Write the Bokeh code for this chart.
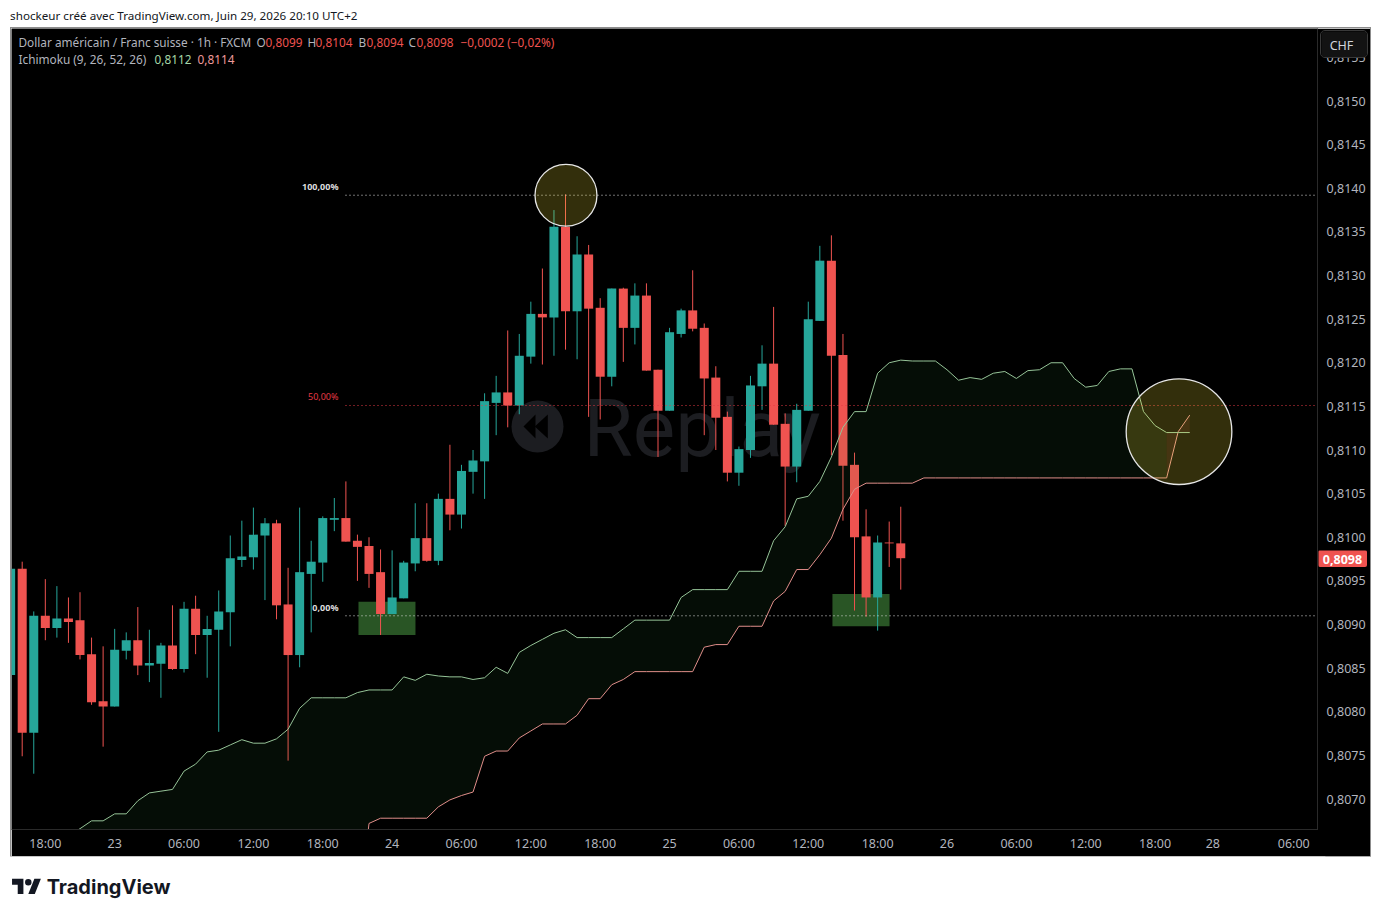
from bokeh.plotting import figure
from bokeh.layouts import column
from bokeh.models import Range1d, FixedTicker
from bokeh.core.properties import value
from bokeh.embed import file_html
from bokeh.resources import INLINE

# ------------------- data -------------------
opens = [0.80842,0.80964,0.80776,0.80910,0.80896,0.80907,0.80905,0.80866,0.80812,0.80806,
         0.80870,0.80882,0.80853,0.80855,0.80876,0.80849,0.80918,0.80888,0.80894,0.80914,
         0.80974,0.80977,0.81002,0.81016,0.80923,0.80865,0.80958,0.80971,0.81020,0.81022,
         0.80996,0.80990,0.80960,0.80912,0.80930,0.80970,0.80999,0.80973,0.81044,0.81026,
         0.81075,0.81087,0.81154,0.81166,0.81151,0.81207,0.81256,0.81252,0.81356,0.81259,
         0.81324,0.81263,0.81184,0.81285,0.81240,0.81277,0.81192,0.81145,0.81233,0.81260,
         0.81240,0.81183,0.81138,0.81074,0.81100,0.81173,0.81199,0.81130,0.81081,0.81145,
         0.81248,0.81317,0.81209,0.81083,0.81001,0.80931,0.80994,0.80993]
highs = [0.80964,0.80972,0.80915,0.80952,0.80944,0.80931,0.80937,0.80885,0.80875,0.80895,
         0.80891,0.80920,0.80894,0.80879,0.80922,0.80926,0.80933,0.80910,0.80939,0.81002,
         0.81019,0.81034,0.81022,0.81020,0.80965,0.81034,0.80996,0.81024,0.81045,0.81064,
         0.81003,0.81000,0.80986,0.80985,0.80973,0.81039,0.81039,0.81050,0.81106,0.81083,
         0.81100,0.81165,0.81185,0.81237,0.81233,0.81270,0.81308,0.81375,0.81393,0.81345,
         0.81335,0.81274,0.81285,0.81286,0.81291,0.81291,0.81192,0.81240,0.81262,0.81306,
         0.81245,0.81196,0.81144,0.81104,0.81185,0.81220,0.81264,0.81142,0.81153,0.81270,
         0.81334,0.81346,0.81233,0.81097,0.81032,0.81002,0.81018,0.81035]
lows = [0.80827,0.80749,0.80729,0.80882,0.80885,0.80879,0.80860,0.80808,0.80760,0.80806,
        0.80860,0.80842,0.80834,0.80816,0.80848,0.80845,0.80866,0.80839,0.80777,0.80875,
        0.80966,0.80963,0.80928,0.80906,0.80744,0.80851,0.80891,0.80949,0.81007,0.80995,
        0.80950,0.80942,0.80888,0.80912,0.80930,0.80961,0.80972,0.80968,0.81008,0.81010,
        0.81050,0.81044,0.81117,0.81126,0.81141,0.81199,0.81198,0.81208,0.81215,0.81204,
        0.81138,0.81135,0.81173,0.81201,0.81221,0.81191,0.81092,0.81145,0.81229,0.81236,
        0.81117,0.81100,0.81064,0.81059,0.81091,0.81146,0.81129,0.81013,0.81063,0.81145,
        0.81248,0.81094,0.81019,0.80916,0.80909,0.80893,0.80966,0.80940]
closes = [0.80964,0.80776,0.80910,0.80896,0.80907,0.80903,0.80865,0.80811,0.80806,0.80871,
          0.80882,0.80853,0.80856,0.80876,0.80849,0.80918,0.80888,0.80895,0.80915,0.80976,
          0.80978,0.81003,0.81016,0.80922,0.80865,0.80960,0.80972,0.81022,0.81022,0.80995,
          0.80989,0.80958,0.80912,0.80931,0.80971,0.80999,0.80973,0.81044,0.81026,0.81076,
          0.81088,0.81156,0.81166,0.81151,0.81208,0.81256,0.81252,0.81356,0.81259,0.81324,
          0.81262,0.81184,0.81285,0.81240,0.81277,0.81191,0.81145,0.81235,0.81260,0.81239,
          0.81182,0.81137,0.81074,0.81101,0.81174,0.81199,0.81129,0.81081,0.81146,0.81250,
          0.81317,0.81208,0.81082,0.81000,0.80931,0.80994,0.80993,0.80976]

span_first_bar = 5
span_a = [0.80658,0.80666,0.80675,0.80675,0.80683,0.80683,0.80698,0.80707,0.80709,0.80711,
          0.80732,0.80740,0.80754,0.80756,0.80762,0.80768,0.80764,0.80764,0.80769,0.80780,
          0.80804,0.80816,0.80816,0.80816,0.80816,0.80822,0.80825,0.80825,0.80825,0.80840,
          0.80836,0.80843,0.80841,0.80840,0.80840,0.80837,0.80839,0.80851,0.80844,0.80868,
          0.80876,0.80883,0.80890,0.80894,0.80885,0.80885,0.80885,0.80885,0.80895,0.80905,
          0.80905,0.80905,0.80905,0.80931,0.80940,0.80940,0.80940,0.80940,0.80961,0.80961,
          0.80961,0.80996,0.81012,0.81044,0.81047,0.81064,0.81092,0.81126,0.81144,0.81144,
          0.81188,0.81200,0.81203,0.81202,0.81202,0.81202,0.81192,0.81180,0.81183,0.81181,
          0.81188,0.81190,0.81182,0.81191,0.81192,0.81200,0.81200,0.81182,0.81172,0.81174,
          0.81190,0.81193,0.81193,0.81144,0.81128,0.81120,0.81120,0.81120]
span_b = [0.80550,0.80550,0.80550,0.80550,0.80550,0.80550,0.80550,0.80550,0.80550,0.80550,
          0.80550,0.80550,0.80550,0.80550,0.80550,0.80550,0.80550,0.80550,0.80550,0.80550,
          0.80550,0.80550,0.80550,0.80550,0.80550,0.80550,0.80672,0.80678,0.80678,0.80678,
          0.80678,0.80678,0.80691,0.80699,0.80704,0.80708,0.80749,0.80755,0.80755,0.80770,
          0.80778,0.80786,0.80786,0.80786,0.80796,0.80815,0.80815,0.80831,0.80837,0.80846,
          0.80846,0.80846,0.80846,0.80846,0.80846,0.80874,0.80877,0.80877,0.80898,0.80898,
          0.80898,0.80927,0.80938,0.80963,0.80963,0.80980,0.80999,0.81032,0.81055,0.81062,
          0.81062,0.81062,0.81062,0.81062,0.81068,0.81068,0.81068,0.81068,0.81068,0.81068,
          0.81068,0.81068,0.81068,0.81068,0.81068,0.81068,0.81068,0.81068,0.81068,0.81068,
          0.81068,0.81068,0.81068,0.81068,0.81068,0.81068,0.81121,0.81140]

price_ticks = [0.8070,0.8075,0.8080,0.8085,0.8090,0.8095,0.8100,0.8105,0.8110,
               0.8115,0.8120,0.8125,0.8130,0.8135,0.8140,0.8145,0.8150,0.8155]
price_labels = ["0,8070","0,8075","0,8080","0,8085","0,8090","0,8095","0,8100","0,8105","0,8110",
                "0,8115","0,8120","0,8125","0,8130","0,8135","0,8140","0,8145","0,8150","0,8155"]
time_ticks = [3,9,15,21,27,33,39,45,51,57,63,69,75,81,87,93,99,104,111]
time_labels = ["18:00","23","06:00","12:00","18:00","24","06:00","12:00","18:00","25",
               "06:00","12:00","18:00","26","06:00","12:00","18:00","28","06:00"]

fib_levels = [0.81392,0.81151,0.80910]
fib_texts = ["100,00%","50,00%","0,00%"]
zone_lefts = [30.09,71.09]
zone_rights = [35.02,76.03]
zone_tops = [0.80926,0.80935]
zone_bottoms = [0.80888,0.80898]
circle_x = [48.04,101.07]
circle_y = [0.81392,0.81121]
circle_r = [2.68,4.57]

# ------------------- layout helpers -------------------
FONT = "Noto Sans"
GREEN, RED = "#26a69a", "#ef5350"
X0, DX = 10.14, 11.56
def X(px): return (px - X0) / DX
def Y(py): return 0.8161633 - 1.1461e-5 * (py + 1)   # picture row -> price on this scale

# ------------------- header -------------------
def strip(y0, y1):
    f = figure(width=1378, height=y1 - y0, x_range=(0, 1378), y_range=(y1, y0),
               x_axis_type=None, y_axis_type=None, toolbar_location=None,
               output_backend="svg", min_border=0, outline_line_color=None,
               background_fill_color="white", border_fill_color="white")
    f.grid.visible = False
    return f

head = strip(0, 27)
head.text([10], [14.5], text=["shockeur créé avec TradingView.com, Juin 29, 2026 20:10 UTC+2"],
          text_font=value(FONT), text_font_size="11.65px", text_color="#131722",
          text_baseline="middle")

# ------------------- main chart -------------------
p = figure(width=1359, height=828, x_range=Range1d(X(11), X(1317)),
           y_range=Range1d(0.8161633 - 1.1461e-5 * 830, 0.8161633 - 1.1461e-5 * 29),
           y_axis_location="right", toolbar_location=None, output_backend="svg",
           background_fill_color="black", border_fill_color="black", outline_line_color=None,
           min_border_left=0, min_border_top=0, min_border_right=53, min_border_bottom=27,
           margin=(1, 0, 0, 11), styles={"outline": "1px solid #8c8c8c"})
p.grid.visible = False

for ax, ticks, labels, standoff in ((p.xaxis[0], time_ticks, time_labels, 5),
                                    (p.yaxis[0], price_ticks, price_labels, 9)):
    ax.ticker = FixedTicker(ticks=ticks)
    ax.major_label_overrides = dict(zip(ticks, labels))
    ax.major_tick_line_color = None
    ax.minor_tick_line_color = None
    ax.major_tick_out = 0
    ax.major_tick_in = 0
    ax.minor_tick_out = 0
    ax.minor_tick_in = 0
    ax.axis_line_color = "#2a2a2a"
    ax.major_label_text_color = "#b2b5be"
    ax.major_label_text_font = FONT
    ax.major_label_text_font_size = "12.5px"
    ax.major_label_standoff = standoff
p.xaxis[0].major_label_orientation = "horizontal"

# watermark
WM = "#1c1d21"
p.circle([X(537)], [Y(426)], radius=26 / DX, radius_dimension="x", fill_color=WM, line_color=None)
p.patches([[X(523), X(535), X(535)], [X(534.3), X(547.3), X(547.3)]],
          [[Y(426), Y(414), Y(438)], [Y(426), Y(414), Y(438)]], fill_color="black", line_color=None)
p.text([X(583)], [Y(428)], text=["Replay"], text_font=value("Roboto"), text_font_size="80px",
       text_color=WM, text_baseline="alphabetic")

# green zones
p.quad(left=zone_lefts, right=zone_rights, top=zone_tops, bottom=zone_bottoms,
       fill_color="#295525", line_color=None)

# candles
bars = list(range(len(opens)))
colors = [GREEN if c >= o else RED for o, c in zip(opens, closes)]
p.segment(bars, highs, bars, lows, line_color=colors, line_width=1)
p.vbar(bars, width=0.78, bottom=[min(o, c) for o, c in zip(opens, closes)],
       top=[max(o, c) for o, c in zip(opens, closes)], fill_color=colors, line_color=None)

# ichimoku cloud
span_x = [span_first_bar + k for k in range(len(span_a))]
cross = next(k for k in range(len(span_a)) if span_b[k] > span_a[k]) - 1
p.varea(span_x[:cross + 1], span_a[:cross + 1], span_b[:cross + 1], fill_color="#43a047", fill_alpha=0.08)
p.varea(span_x[cross:], span_a[cross:], span_b[cross:], fill_color="#ef5350", fill_alpha=0.1)
p.line(span_x, span_b, line_color="#e08e8a", line_width=1)
p.line(span_x, span_a, line_color="#96c498", line_width=1)

# fib levels
fib_colors = ["#e0e0e0", "#e53945", "#e0e0e0"]
p.segment([X(345)] * 3, fib_levels, [X(1317)] * 3, fib_levels, line_color=fib_colors,
          line_width=1, line_dash="1 3")
for lev, txt, col, weight, py in zip(fib_levels, fib_texts, ["#dcdcdc", "#e53945", "#dcdcdc"],
                                     ["bold", "normal", "bold"], [185.5, 395.5, 606.5]):
    p.text([X(338)], [Y(py)], text=[txt], text_font=value(FONT), text_font_size="9px",
           text_color=col, text_font_style=weight, text_align="right", text_baseline="middle")

# highlight circles
p.circle(circle_x, circle_y, radius=circle_r, radius_dimension="x", fill_color="#ffeb3b",
         fill_alpha=0.2, line_color="#e6e6e6", line_width=1.3)

# legend text
def leg(px, py, txt, col):
    p.text([X(px)], [Y(py)], text=[txt], text_font=value(FONT), text_font_size="11.8px",
           text_color=col, text_baseline="middle")
G = "#b2b5be"
for px, txt, col in [(18, "Dollar américain / Franc suisse · 1h · FXCM", G), (256, "O", G), (265, "0,8099", RED),
                     (307, "H", G), (315, "0,8104", RED), (358, "B", G), (366, "0,8094", RED),
                     (408, "C", G), (416, "0,8098", RED), (460, "−0,0002 (−0,02%)", RED)]:
    leg(px, 41.5, txt, col)
for px, txt, col in [(18, "Ichimoku (9, 26, 52, 26)", G), (154, "0,8112", "#a5d6a7"), (197, "0,8114", "#ef9a9a")]:
    leg(px, 58.5, txt, col)

# CHF button and last-price tag over the price scale
def tag(l, r, t, b, fill, css, txt, col, style, tx):
    w, h = r - l, b - t
    f = figure(frame_width=w, frame_height=h, x_range=Range1d(0, w), y_range=Range1d(h, 0),
               x_axis_type=None, y_axis_type=None,
               toolbar_location=None, output_backend="svg", min_border=0, outline_line_color=None,
               background_fill_color=fill, border_fill_color=fill,
               styles={"position": "absolute", "left": f"{l}px", "top": f"{t}px", "z-index": "5",
                       "overflow": "hidden", **css})
    f.grid.visible = False
    f.text([tx], [h / 2 + 0.5], text=[txt], text_font=value(FONT), text_font_size="12.5px",
           text_color=col, text_font_style=style, text_align="center", text_baseline="middle")
    return f
chf = tag(1321, 1367, 31, 57, "#131313", {"border-radius": "4px", "outline": "1px solid #3a3a3a"},
          "CHF", "#d1d4dc", "normal", 20)
last = tag(1318, 1367, 550, 567, RED, {"border-radius": "2px"}, "0,8098", "#ffffff", "bold", 24)

# ------------------- footer -------------------
foot = strip(857, 907)
s, ox, oy = 0.845, 12, 875.9
logo_x = [[0, 14, 14, 7, 7, 0], [20, 28, 35.5, 27.5]]
logo_y = [[4, 4, 22, 22, 11, 11], [22, 22, 4, 4]]
foot.patches([[ox + s * v for v in xs] for xs in logo_x], [[oy + s * v for v in ys] for ys in logo_y],
             fill_color="#131722", line_color=None)
foot.circle([ox + s * 20], [oy + s * 8], radius=s * 4, fill_color="#131722", line_color=None)
foot.text([48], [887], text=["TradingView"], text_font=value("Inter"), text_font_size="20px",
          text_font_style="bold", text_color="#131722", text_baseline="middle")

page = column(head, p, foot, chf, last, spacing=0)
open("out.html", "w").write(file_html(page, INLINE))
